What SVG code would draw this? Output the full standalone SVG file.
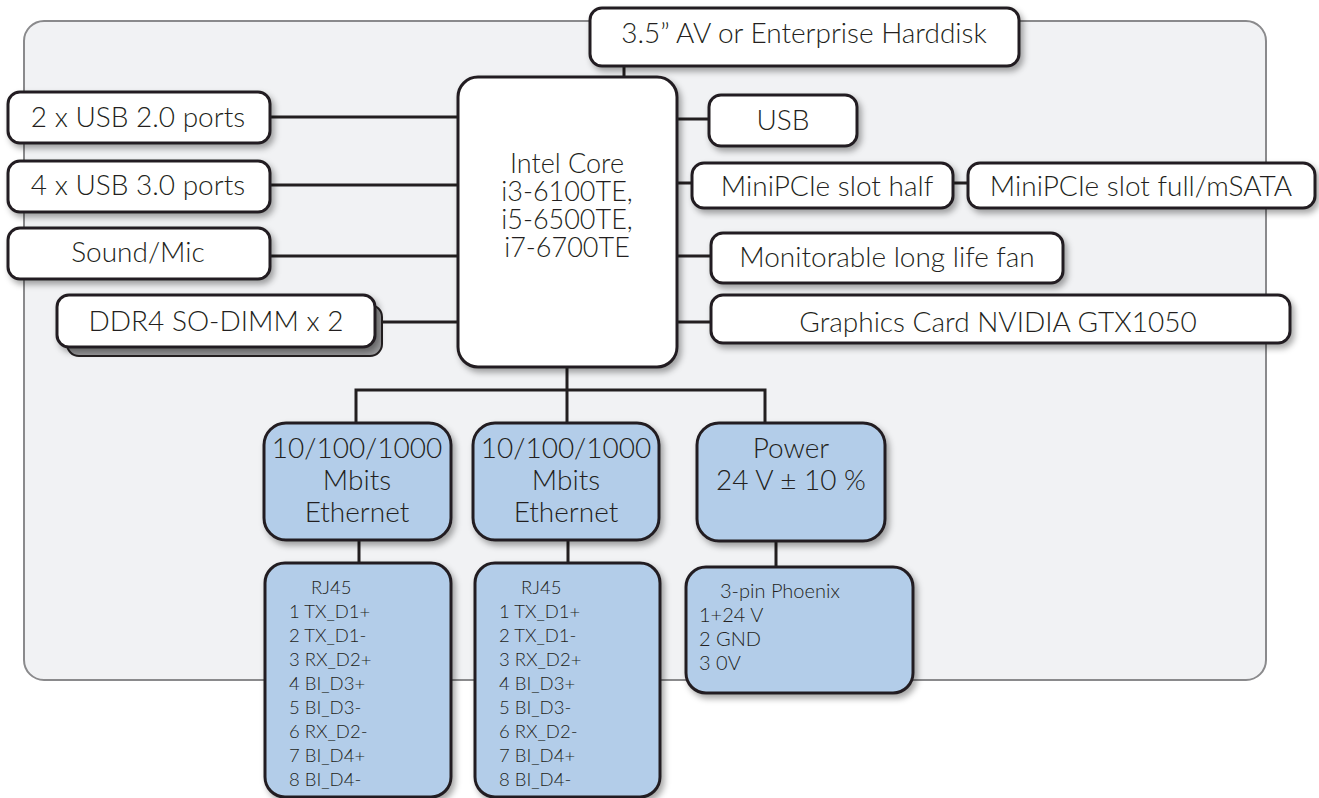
<svg xmlns="http://www.w3.org/2000/svg" width="1319" height="798" viewBox="0 0 1319 798">
<defs>
<filter id="sh" x="-10%" y="-10%" width="125%" height="135%">
<feDropShadow dx="3" dy="4" stdDeviation="3" flood-color="#000" flood-opacity="0.35"/>
</filter>
<style>
.panel{fill:#f1f2f4;stroke:#8a8a8c;stroke-width:2}
.box{fill:#ffffff;stroke:#231f20;stroke-width:3;filter:url(#sh)}
.blue{fill:#b3cde9;stroke:#231f20;stroke-width:3;filter:url(#sh)}
.back{fill:#9a9a9c;stroke:#231f20;stroke-width:2}
.t{font-family:Lato,"Open Sans",sans-serif;font-weight:300;fill:#231f20;text-anchor:middle;font-size:28px}
.cpu{font-size:27px}
.s{font-family:Lato,"Open Sans",sans-serif;font-weight:300;fill:#231f20;font-size:18.5px}
.p{font-size:20px}
.c{fill:none;stroke:#231f20;stroke-width:3}
</style>
</defs>
<rect class="panel" x="24" y="21" width="1242" height="659" rx="20"/>
<g id="connectors">
<path class="c" d="M624 66V77"/>
<path class="c" d="M270 117H458M270 185H458M270 256H458M375 322H458"/>
<path class="c" d="M677 119H709M677 183H692M953 183H968M677 256H711M677 322H711"/>
<path class="c" d="M567 367V390M356 423V390H765V423M567 390V423"/>
<path class="c" d="M359 540V563M568 540V563M776 541V567"/>
</g>
<g id="harddisk"><rect class="box" x="590" y="8" width="429" height="58" rx="12"/><text class="t" x="804" y="43">3.5” AV or Enterprise Harddisk</text></g>
<g id="cpu"><rect class="box" x="458" y="77" width="219" height="290" rx="20"/>
<text class="t cpu" x="567" y="173">Intel Core<tspan x="567" dy="28">i3-6100TE,</tspan><tspan x="567" dy="28">i5-6500TE,</tspan><tspan x="567" dy="28">i7-6700TE</tspan></text></g>
<g id="usb2"><rect class="box" x="8" y="92" width="262" height="51" rx="12"/><text class="t" x="138" y="127">2 x USB 2.0 ports</text></g>
<g id="usb3"><rect class="box" x="8" y="161" width="262" height="51" rx="12"/><text class="t" x="138" y="195">4 x USB 3.0 ports</text></g>
<g id="sound"><rect class="box" x="8" y="228" width="262" height="51" rx="12"/><text class="t" x="138" y="262">Sound/Mic</text></g>
<g id="ddr4"><rect class="back" x="67" y="305" width="315" height="51" rx="12"/><rect class="box" x="57" y="295" width="318" height="52" rx="12"/><text class="t" x="216" y="331">DDR4 SO-DIMM x 2</text></g>
<g id="usb"><rect class="box" x="709" y="95" width="148" height="51" rx="12"/><text class="t" x="783" y="130">USB</text></g>
<g id="minihalf"><rect class="box" x="692" y="163" width="261" height="45" rx="12"/><text class="t" x="827" y="196">MiniPCIe slot half</text></g>
<g id="minifull"><rect class="box" x="968" y="163" width="347" height="45" rx="12"/><text class="t" x="1141" y="196">MiniPCIe slot full/mSATA</text></g>
<g id="fan"><rect class="box" x="711" y="233" width="352" height="50" rx="12"/><text class="t" x="887" y="267">Monitorable long life fan</text></g>
<g id="gpu"><rect class="box" x="711" y="295" width="579" height="48" rx="12"/><text class="t" x="998" y="332">Graphics Card NVIDIA GTX1050</text></g>
<g id="eth1"><rect class="blue" x="264" y="423" width="187" height="117" rx="22"/>
<text class="t" x="357" y="458">10/100/1000</text><text class="t" x="357" y="490">Mbits</text><text class="t" x="357" y="522">Ethernet</text></g>
<g id="eth2"><rect class="blue" x="473" y="423" width="186" height="117" rx="22"/>
<text class="t" x="566" y="458">10/100/1000</text><text class="t" x="566" y="490">Mbits</text><text class="t" x="566" y="522">Ethernet</text></g>
<g id="power"><rect class="blue" x="697" y="423" width="188" height="118" rx="22"/>
<text class="t" x="791" y="458">Power</text><text class="t" x="791" y="490">24 V ± 10 %</text></g>
<g id="rj45a"><rect class="blue" x="265" y="563" width="186" height="234" rx="20"/>
<text class="s" x="311" y="594">RJ45</text>
<text class="s" x="289" y="618">1 TX_D1+</text><text class="s" x="289" y="642">2 TX_D1-</text><text class="s" x="289" y="666">3 RX_D2+</text><text class="s" x="289" y="690">4 BI_D3+</text>
<text class="s" x="289" y="714">5 BI_D3-</text><text class="s" x="289" y="738">6 RX_D2-</text><text class="s" x="289" y="762">7 BI_D4+</text><text class="s" x="289" y="786">8 BI_D4-</text></g>
<g id="rj45b"><rect class="blue" x="475" y="563" width="185" height="234" rx="20"/>
<text class="s" x="521" y="594">RJ45</text>
<text class="s" x="499" y="618">1 TX_D1+</text><text class="s" x="499" y="642">2 TX_D1-</text><text class="s" x="499" y="666">3 RX_D2+</text><text class="s" x="499" y="690">4 BI_D3+</text>
<text class="s" x="499" y="714">5 BI_D3-</text><text class="s" x="499" y="738">6 RX_D2-</text><text class="s" x="499" y="762">7 BI_D4+</text><text class="s" x="499" y="786">8 BI_D4-</text></g>
<g id="phoenix"><rect class="blue" x="686" y="567" width="227" height="126" rx="20"/>
<text class="s p" x="720" y="598">3-pin Phoenix</text><text class="s p" x="699" y="622">1+24 V</text><text class="s p" x="699" y="646">2 GND</text><text class="s p" x="699" y="670">3 0V</text></g>
</svg>
